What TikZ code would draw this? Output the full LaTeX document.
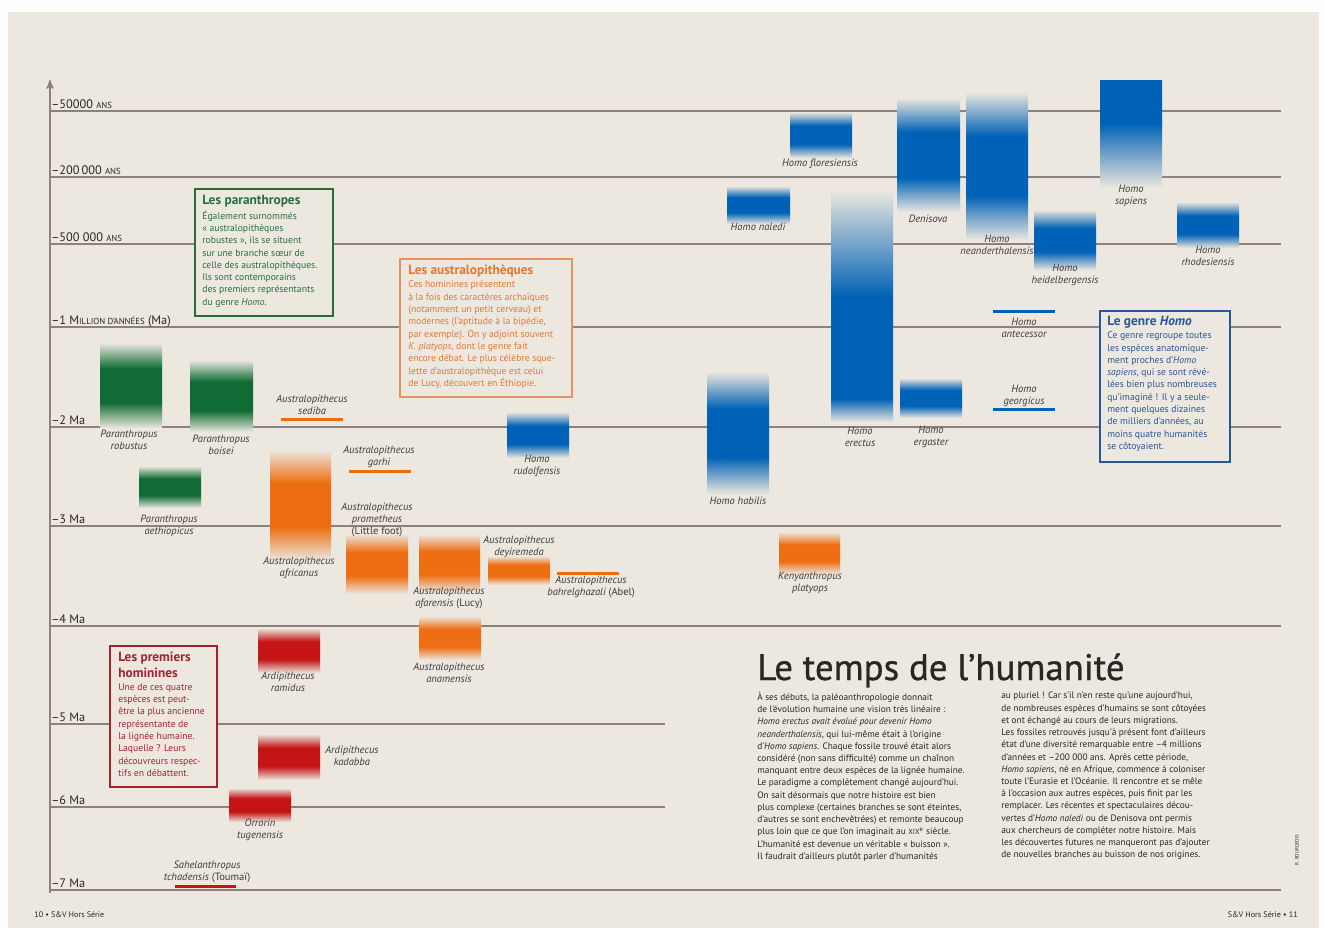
\documentclass[tikz,border=0pt]{standalone}
\usepackage{fontspec}
\setmainfont{PT Sans}
\usetikzlibrary{arrows,positioning}

\definecolor{bgc}{RGB}{236,231,223}
\definecolor{gridc}{RGB}{138,131,125}
\definecolor{grnc}{RGB}{16,108,52}
\definecolor{orgc}{RGB}{237,110,18}
\definecolor{redc}{RGB}{196,20,22}
\definecolor{bluc}{RGB}{0,98,182}
\definecolor{labc}{RGB}{62,58,58}
\definecolor{txtc}{RGB}{42,38,38}
\definecolor{grnT}{RGB}{38,112,62}
\definecolor{orgT}{RGB}{226,120,52}
\definecolor{redT}{RGB}{166,34,48}
\definecolor{bluT}{RGB}{40,88,150}
\colorlet{barc}{grnc}

\pgfdeclareverticalshading[bgc,barc]{plateau}{100bp}{color(0bp)=(bgc); color(25bp)=(bgc); color(40bp)=(barc); color(60bp)=(barc); color(75bp)=(bgc); color(100bp)=(bgc)}
\pgfdeclareverticalshading[bgc,barc]{fadedown}{100bp}{color(0bp)=(bgc); color(25bp)=(bgc); color(55bp)=(barc); color(75bp)=(barc); color(100bp)=(barc)}
\pgfdeclareverticalshading[bgc,barc]{longtop}{100bp}{color(0bp)=(bgc); color(25bp)=(bgc); color(30bp)=(barc); color(52bp)=(barc); color(75bp)=(bgc); color(100bp)=(bgc)}

\newcommand{\smc}[1]{{\fontsize{5}{5}\selectfont #1}}

\tikzset{
  grid line/.style={gridc, line width=0.65pt},
  bar/.style={shade, /utils/exec={\colorlet{barc}{#1}}, shading=plateau},
  thin bar/.style={#1, line width=1.7pt},
  sp/.style={font=\fontsize{6}{6.9}\selectfont\itshape, text=labc, align=center, inner sep=0pt},
  tick lab/.style={font=\fontsize{7}{8}\selectfont, text=txtc, anchor=base west, inner sep=0pt},
  infobox/.style={fill=bgc, line width=0.8pt},
  bxtitle/.style={font=\fontsize{7.6}{8.8}\selectfont\bfseries, align=left, inner sep=0pt, anchor=north west},
  bxbody/.style={font=\fontsize{5.5}{7}\selectfont, align=left, inner sep=0pt, anchor=north west},
  para/.style={font=\fontsize{5.3}{6.95}\selectfont, text=txtc, align=left, inner sep=0pt, anchor=north west},
}

\begin{document}
\begin{tikzpicture}[x=0.02cm, y=-0.02cm, >=stealth']

\useasboundingbox (0,0) rectangle (1325,931);
\fill[white!97!bgc] (0,0) rectangle (1325,931);
\fill[bgc] (8,12) rectangle (1319,928);

% time grid
\foreach \y/\xe/\lab in {111/1281/{--50000 \smc{ANS}}, 177/1281/{--200\,000 \smc{ANS}},
  244/1281/{--500 000 \smc{ANS}}, 327/1281/{--1 M\smc{ILLION D'ANNÉES} (Ma)},
  427/1281/{--2 Ma}, 526/1281/{--3 Ma}, 626/1281/{--4 Ma}, 724/665/{--5 Ma},
  807/665/{--6 Ma}, 890/1281/{--7 Ma}} {
  \draw[grid line] (50,\y) -- (\xe,\y);
  \node[tick lab] (tick\y) at (51,\y-3) {\lab};
}
\draw[->, gridc, line width=0.8pt] (50,893) -- (50,80);

% boxes
\draw[infobox, draw=grnT] (195,189) rectangle (333,316);
\node[bxtitle, text=grnT] (paraTitle) at (202,195) {Les paranthropes};
\node[bxbody, text=grnT, below=1.5pt of paraTitle.south west, anchor=north west] (paraBody) {Également surnommés\\« australopithèques\\robustes », ils se situent\\sur une branche sœur de\\celle des australopithèques.\\Ils sont contemporains\\des premiers représentants\\du genre \textit{Homo}.};

\draw[infobox, draw=orgT!80] (400,259) rectangle (572,397);
\node[bxtitle, text=orgT] (austTitle) at (408,265) {Les australopithèques};
\node[bxbody, text=orgT, below=1.5pt of austTitle.south west, anchor=north west] (austBody) {Ces hominines présentent\\à la fois des caractères archaïques\\(notamment un petit cerveau) et\\modernes (l'aptitude à la bipédie,\\par exemple). On y adjoint souvent\\\textit{K. platyops}, dont le genre fait\\encore débat. Le plus célèbre sque-\\lette d'australopithèque est celui\\de Lucy, découvert en Éthiopie.};

\draw[infobox, draw=redT] (110,646) rectangle (217,787);
\node[bxtitle, text=redT] (homiTitle) at (118,652) {Les premiers\\hominines};
\node[bxbody, text=redT, below=3pt of homiTitle.south west, anchor=north west] (homiBody) {Une de ces quatre\\espèces est peut-\\être la plus ancienne\\représentante de\\la lignée humaine.\\Laquelle ? Leurs\\découvreurs respec-\\tifs en débattent.};

\draw[infobox, draw=bluT] (1100,311) rectangle (1230,462);
\node[bxtitle, text=bluT] (homoTitle) at (1107,316) {Le genre \textit{Homo}};
\node[bxbody, text=bluT, below=1.5pt of homoTitle.south west, anchor=north west] (homoBody) {Ce genre regroupe toutes\\les espèces anatomique-\\ment proches d'\textit{Homo}\\\textit{sapiens}, qui se sont révé-\\lées bien plus nombreuses\\qu'imaginé ! Il y a seule-\\ment quelques dizaines\\de milliers d'années, au\\moins quatre humanités\\se côtoyaient.};

% paranthropes
\path[bar=grnc] (100,343) rectangle (162,428);
\path[bar=grnc] (190,360) rectangle (253,432);
\path[bar=grnc] (139,466) rectangle (201,508);
\node[sp] (robustus) at (129,440) {Paranthropus\\robustus};
\node[sp] (boisei) at (221,445) {Paranthropus\\boisei};
\node[sp] (aethiopicus) at (169,526) {Paranthropus\\aethiopicus};

% australopitheques
\path[bar=orgc] (270,450) rectangle (331,560);
\path[bar=orgc] (346,534) rectangle (408,594);
\path[bar=orgc] (419,534) rectangle (480,592);
\path[bar=orgc] (488,556) rectangle (550,585);
\path[bar=orgc] (419,616) rectangle (481,660);
\path[bar=orgc] (779,532) rectangle (840,574);
\draw[thin bar=orgc] (281,419) -- (343,419);
\draw[thin bar=orgc] (349,471) -- (411,471);
\draw[thin bar=orgc] (557,573) -- (619,573);
\node[sp] (sediba) at (312,405) {Australopithecus\\sediba};
\node[sp] (garhi) at (379,457) {Australopithecus\\garhi};
\node[sp] (africanus) at (299,568) {Australopithecus\\africanus};
\node[sp] (prometheus) at (377,520) {Australopithecus\\prometheus\\{\upshape(Little foot)}};
\node[sp] (afarensis) at (449,598) {Australopithecus\\afarensis {\upshape(Lucy)}};
\node[sp] (deyiremeda) at (519,547) {Australopithecus\\deyiremeda};
\node[sp] (bahrelghazali) at (591,587) {Australopithecus\\bahrelghazali {\upshape(Abel)}};
\node[sp] (anamensis) at (449,673) {Australopithecus\\anamensis};
\node[sp] (platyops) at (810,583) {Kenyanthropus\\platyops};

% premiers hominines
\path[bar=redc] (258,628) rectangle (320,673);
\path[bar=redc] (258,734) rectangle (320,780);
\path[bar=redc] (229,788) rectangle (291,822);
\draw[thin bar=redc] (175,886) -- (236,886);
\node[sp] (ramidus) at (288,682) {Ardipithecus\\ramidus};
\node[sp] (kadabba) at (352,756) {Ardipithecus\\kadabba};
\node[sp] (orrorin) at (260,830) {Orrorin\\tugenensis};
\node[sp] (sahel) at (207,872) {Sahelanthropus\\tchadensis {\upshape(Toumaï)}};

% genre Homo
\path[bar=bluc] (507,412) rectangle (569,458);
\path[bar=bluc] (707,372) rectangle (769,494);
\path[bar=bluc, shading=longtop] (831,190) rectangle (893,422);
\path[bar=bluc] (900,378) rectangle (962,418);
\path[bar=bluc] (727,186) rectangle (790,224);
\path[bar=bluc] (790,112) rectangle (852,158);
\path[bar=bluc] (897,98) rectangle (960,212);
\path[bar=bluc] (966,92) rectangle (1028,240);
\path[bar=bluc] (1034,210) rectangle (1096,270);
\path[bar=bluc, shading=fadedown] (1100,80) rectangle (1162,188);
\path[bar=bluc] (1177,202) rectangle (1239,248);
\draw[thin bar=bluc] (993,311) -- (1055,311);
\draw[thin bar=bluc] (993,409) -- (1055,409);
\node[sp] (rudolfensis) at (537,466) {Homo\\rudolfensis};
\node[sp] (habilis) at (738,501) {Homo habilis};
\node[sp] (erectus) at (860,437) {Homo\\erectus};
\node[sp] (ergaster) at (931,437) {Homo\\ergaster};
\node[sp] (naledi) at (758,227) {Homo naledi};
\node[sp] (floresiensis) at (820,164) {Homo floresiensis};
\node[sp] (denisova) at (928,219) {Denisova};
\node[sp] (neander) at (997,245) {Homo\\neanderthalensis};
\node[sp] (heidel) at (1065,275) {Homo\\heidelbergensis};
\node[sp] (sapiens) at (1131,196) {Homo\\sapiens};
\node[sp] (rhodes) at (1208,256) {Homo\\rhodesiensis};
\node[sp] (antecessor) at (1024,328) {Homo\\antecessor};
\node[sp] (georgicus) at (1024,396) {Homo\\georgicus};

% titre et texte
\node[font=\fontsize{21}{25}\selectfont\addfontfeature{FakeBold=0.8}, text=txtc, anchor=base west, inner sep=0pt] (title) at (757,680) {Le temps de l'humanité};
\node[para] (colL) at (757,692) {À ses débuts, la paléoanthropologie donnait\\de l'évolution humaine une vision très linéaire :\\\textit{Homo erectus avait évolué pour devenir Homo}\\\textit{neanderthalensis}, qui lui-même était à l'origine\\d'\textit{Homo sapiens}. Chaque fossile trouvé était alors\\considéré (non sans difficulté) comme un chaînon\\manquant entre deux espèces de la lignée humaine.\\Le paradigme a complètement changé aujourd'hui.\\On sait désormais que notre histoire est bien\\plus complexe (certaines branches se sont éteintes,\\d'autres se sont enchevêtrées) et remonte beaucoup\\plus loin que ce que l'on imaginait au {\fontsize{4.2}{5}\selectfont XIX}\textsuperscript{e} siècle.\\L'humanité est devenue un véritable « buisson ».\\Il faudrait d'ailleurs plutôt parler d'humanités};
\node[para] (colR) at (1001,692) {au pluriel ! Car s'il n'en reste qu'une aujourd'hui,\\de nombreuses espèces d'humains se sont côtoyées\\et ont échangé au cours de leurs migrations.\\Les fossiles retrouvés jusqu'à présent font d'ailleurs\\état d'une diversité remarquable entre --4 millions\\d'années et --200 000 ans. Après cette période,\\\textit{Homo sapiens}, né en Afrique, commence à coloniser\\toute l'Eurasie et l'Océanie. Il rencontre et se mêle\\à l'occasion aux autres espèces, puis finit par les\\remplacer. Les récentes et spectaculaires décou-\\vertes d'\textit{Homo naledi} ou de Denisova ont permis\\aux chercheurs de compléter notre histoire. Mais\\les découvertes futures ne manqueront pas d'ajouter\\de nouvelles branches au buisson de nos origines.};

\node[font=\fontsize{4.6}{5}\selectfont, text=txtc, anchor=west, inner sep=0pt] (pgL) at (34,915) {10 • S\&V Hors Série};
\node[font=\fontsize{4.6}{5}\selectfont, text=txtc, anchor=east, inner sep=0pt] (pgR) at (1298,915) {S\&V Hors Série • 11};
\node[font=\fontsize{2.8}{3}\selectfont, text=txtc, rotate=90, inner sep=0pt] (credit) at (1297,850) {R. BOURGEOIS};

\end{tikzpicture}
\end{document}
